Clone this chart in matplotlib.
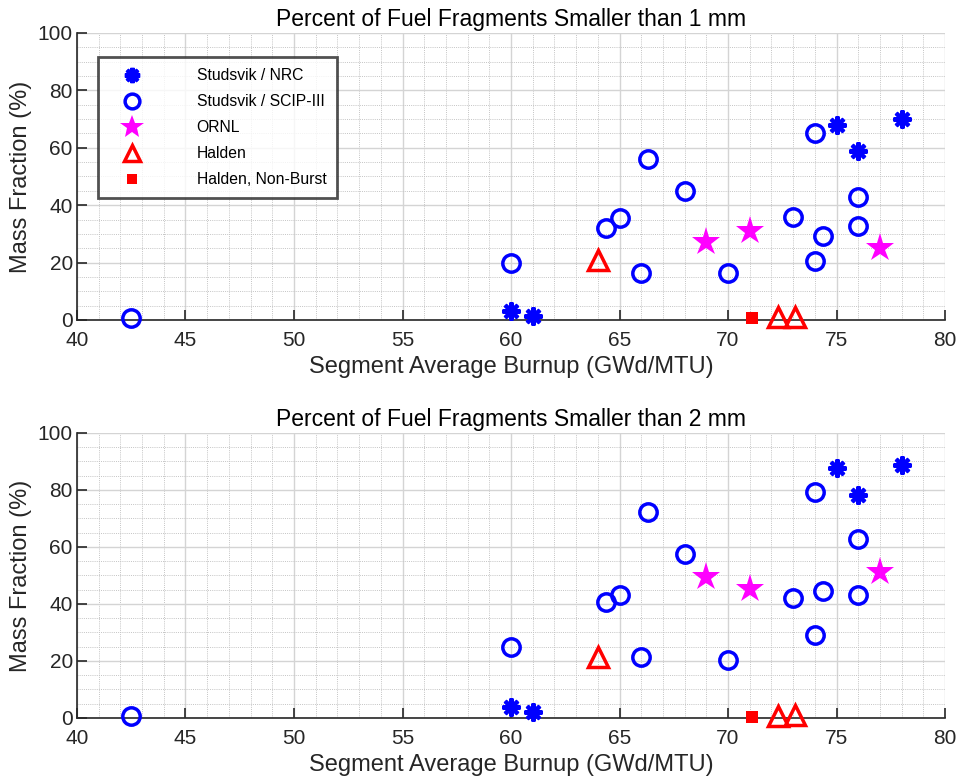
import matplotlib.pyplot as plt
from matplotlib.ticker import MultipleLocator

plt.rcParams["font.family"] = ["Liberation Sans", "DejaVu Sans"]

# Burnup (GWd/MTU) per data set
nrc_x = [60, 61, 75, 76, 78]
scip_x = [42.5, 60, 64.4, 65, 66.3, 66, 68, 70, 73, 74, 74, 74.4, 76, 76]
ornl_x = [69, 71, 77]
halden_x = [64, 72.3, 73.1]
nonburst_x = [71.1]

# mass fraction (%) smaller than 1 mm
nrc_1mm = [3, 1.5, 68, 59, 70]
scip_1mm = [0.6, 20, 32, 35.7, 56, 16.5, 45.1, 16.3, 35.8, 65, 20.6, 29.3, 42.7, 32.8]
ornl_1mm = [27, 31.1, 25]
halden_1mm = [20.9, 0.9, 1.2]
nonburst_1mm = [0.6]

# mass fraction (%) smaller than 2 mm
nrc_2mm = [4, 2.2, 87.8, 78.2, 88.8]
scip_2mm = [0.8, 24.8, 40.6, 43.2, 72.2, 21.5, 57.5, 20.4, 42, 79.1, 29.1, 44.6, 62.9, 43]
ornl_2mm = [49.4, 45.3, 51.1]
halden_2mm = [21.3, 0.7, 1.0]
nonburst_2mm = [0.5]

titles = ["Percent of Fuel Fragments Smaller than 1 mm",
          "Percent of Fuel Fragments Smaller than 2 mm"]

AX_COL = "#262626"


def draw_panel(ax, nrc, scip, ornl, halden, nonburst, title, legend=False):
    ax.plot(nrc_x, nrc, ls="none", marker=(8, 2, 0), ms=13, mew=2.9,
            color="blue", label="Studsvik / NRC", clip_on=False, zorder=3)
    ax.plot(scip_x, scip, ls="none", marker="o", ms=12.5, mew=2.5, mfc="none",
            color="blue", label="Studsvik / SCIP-III", clip_on=False, zorder=3)
    ax.plot(ornl_x, ornl, ls="none", marker="*", ms=21, mew=0,
            color="magenta", label="ORNL", clip_on=False, zorder=3)
    ax.plot(halden_x, halden, ls="none", marker="^", ms=14, mew=2.5, mfc="none",
            color="red", label="Halden", clip_on=False, zorder=3)
    ax.plot(nonburst_x, nonburst, ls="none", marker="s", ms=9, mew=0,
            color="red", label="Halden, Non-Burst", clip_on=False, zorder=3)

    ax.set_xlim(40, 80)
    ax.set_ylim(0, 100)
    ax.xaxis.set_major_locator(MultipleLocator(5))
    ax.xaxis.set_minor_locator(MultipleLocator(1))
    ax.yaxis.set_major_locator(MultipleLocator(20))
    ax.yaxis.set_minor_locator(MultipleLocator(5))
    ax.grid(which="major", color="#d4d4d4", lw=1.0, ls="-")
    ax.grid(which="minor", color="#c4c4c4", lw=0.7, ls=(0, (1, 1.2)))
    ax.set_axisbelow(True)
    for side in ("top", "right"):
        ax.spines[side].set_visible(False)
    for side in ("left", "bottom"):
        ax.spines[side].set_color(AX_COL)
        ax.spines[side].set_linewidth(1.2)
    ax.tick_params(which="major", direction="in", length=7, width=1.2,
                   colors=AX_COL, labelsize=15)
    ax.tick_params(axis="x", which="major", pad=8)
    ax.tick_params(axis="y", which="major", pad=3)
    ax.tick_params(which="minor", length=0)
    ax.set_title(title, fontsize=16.5, color="black", pad=5)
    ax.set_xlabel("Segment Average Burnup (GWd/MTU)", fontsize=17,
                  color=AX_COL, labelpad=4)
    ax.set_ylabel("Mass Fraction (%)", fontsize=17, color=AX_COL, labelpad=4)

    if legend:
        leg = ax.legend(loc="upper left", bbox_to_anchor=(0.024, 0.915),
                        fontsize=11.3, frameon=True, fancybox=False,
                        edgecolor=AX_COL, borderpad=0.7, labelspacing=0.7,
                        handletextpad=2.6, borderaxespad=0, handlelength=3.0,
                        markerscale=0.85)
        leg.get_frame().set_linewidth(2)


fig = plt.figure(figsize=(9.6, 7.81), dpi=100)
ax1 = fig.add_axes([0.0802, 0.5903, 0.9042, 0.3675])
ax2 = fig.add_axes([0.0802, 0.0807, 0.9042, 0.365])

draw_panel(ax1, nrc_1mm, scip_1mm, ornl_1mm, halden_1mm, nonburst_1mm,
           titles[0], legend=True)
draw_panel(ax2, nrc_2mm, scip_2mm, ornl_2mm, halden_2mm, nonburst_2mm,
           titles[1])

fig.savefig("out.png", dpi=100, facecolor="white")
